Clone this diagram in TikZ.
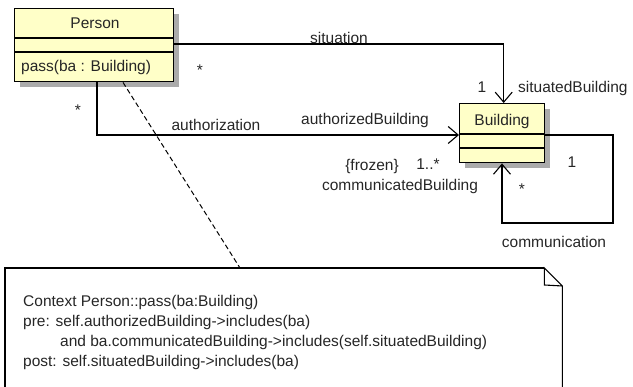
\documentclass[tikz,border=0pt]{standalone}
\usepackage{fontspec}
\setmainfont{Liberation Sans}
\usetikzlibrary{arrows.meta,shadows}
\definecolor{classfill}{RGB}{255,255,200}
\definecolor{shadowgray}{RGB}{150,150,150}
\begin{document}
\begin{tikzpicture}[x=1pt,y=-1pt,
  every node/.style={font=\fontsize{15.5}{19}\selectfont, inner sep=0pt},
  classbox/.style={draw=black, line width=1.4pt, fill=classfill, anchor=north west,
    drop shadow={shadow xshift=5pt, shadow yshift=-5pt, fill=shadowgray, opacity=0.8}},
  assoc/.style={line width=1.1pt, -{Straight Barb[length=10pt,width=17pt,line width=1.1pt]}},
  plain/.style={line width=1.1pt},
  lbl/.style={text=black!85}]
\clip (0,0) rectangle (633,387);
\useasboundingbox (0,0) rectangle (633,387);

% Person class
\node[classbox, minimum width=159pt, minimum height=73pt] (person) at (14,8) {};
\draw[line width=1.1pt] ([yshift=-30pt]person.north west) -- ([yshift=-30pt]person.north east);
\draw[line width=1.1pt] ([yshift=-44pt]person.north west) -- ([yshift=-44pt]person.north east);
\node[lbl] (personname) at (95,23) {Person};
\node[lbl, anchor=west] (personop) at (21,67) {pass(ba : Building)};

% Building class
\node[classbox, minimum width=85pt, minimum height=59pt] (building) at (459,103) {};
\draw[line width=1.1pt] ([yshift=-31pt]building.north west) -- ([yshift=-31pt]building.north east);
\draw[line width=1.1pt] ([yshift=-45pt]building.north west) -- ([yshift=-45pt]building.north east);
\node[lbl] (buildingname) at (502,121) {Building};

% situation
\draw[assoc] ([yshift=-36pt]person.north east) -| ([xshift=1.5pt]building.north);
% authorization
\draw[assoc] ([xshift=83pt]person.south west) |- ([yshift=-32pt]building.north west);
% communication (self loop)
\draw[assoc] ([yshift=-32pt]building.north east) -| (613,223) -| ([xshift=43pt]building.south west);

% Note
\node[anchor=north west, minimum width=557pt, minimum height=130pt] (note) at (5,268) {};
\draw[line width=1.4pt] ([xshift=-18pt]note.north east) -- (note.north west) -- (note.south west);
\draw[line width=1.1pt] (note.south east) -- ([yshift=-18pt]note.north east) -- ([xshift=-18pt]note.north east)
   -- ([xshift=-18pt,yshift=-17pt]note.north east) -- ([yshift=-18pt]note.north east);
\draw[line width=1pt, dash pattern=on 5pt off 3pt] ([xshift=109pt]person.south west) -- ([xshift=235pt]note.north west);

\node[lbl, anchor=west] (l1) at (23,302) {Context Person::pass(ba:Building)};
\node[lbl, anchor=west] (l2) at (23,322) {pre: self.authorizedBuilding->includes(ba)};
\node[lbl, anchor=west] (l3) at (60,342) {and ba.communicatedBuilding->includes(self.situatedBuilding)};
\node[lbl, anchor=west] (l4) at (23,362) {post: self.situatedBuilding->includes(ba)};

% association labels
\node[lbl] (situation) at (339,38) {situation};
\node[lbl] (m1) at (482,87) {1};
\node[lbl, anchor=west] (situated) at (518,88) {situatedBuilding};
\node[lbl] (s1) at (200,70) {*};
\node[lbl] (s2) at (78,110) {*};
\node[lbl] (authorization) at (216,125) {authorization};
\node[lbl] (authorized) at (365,120) {authorizedBuilding};
\node[lbl] (frozen) at (372,166) {\{frozen\}};
\node[lbl] (m2) at (428,164) {1..*};
\node[lbl] (communicated) at (400,186) {communicatedBuilding};
\node[lbl] (m3) at (572,162) {1};
\node[lbl] (s3) at (522,189) {*};
\node[lbl] (communication) at (554,242) {communication};
\end{tikzpicture}
\end{document}
